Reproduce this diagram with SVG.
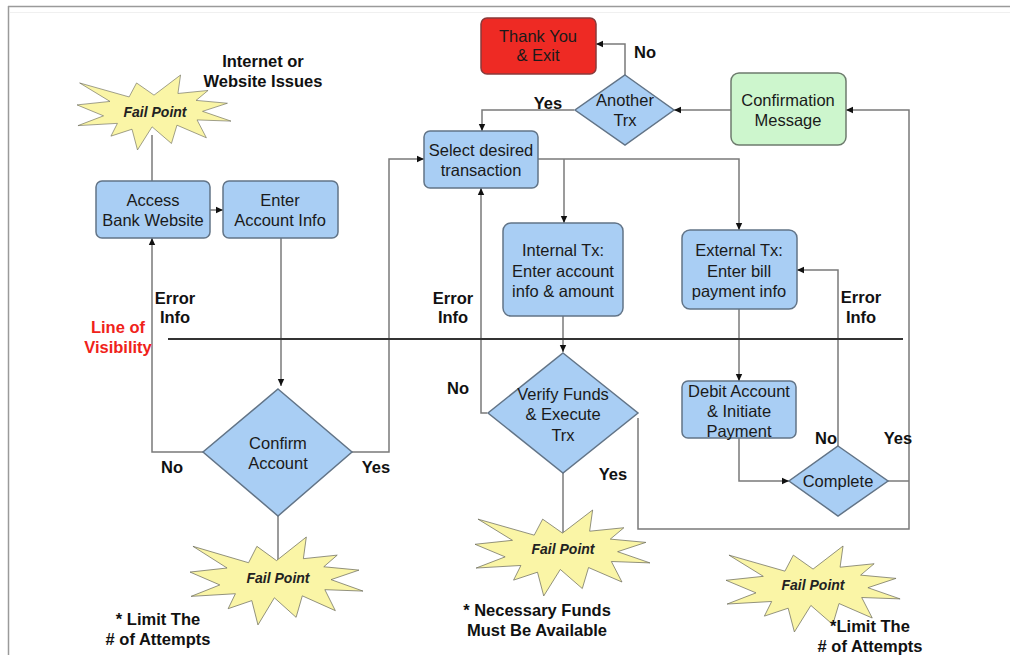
<svg xmlns="http://www.w3.org/2000/svg" width="1010" height="655" viewBox="0 0 1010 655">
<style>
.box{fill:#A9CEF4;stroke:#627487;stroke-width:1.5}
.red{fill:#EE2A24;stroke:#8a3a3a;stroke-width:1.5}
.green{fill:#CDF6CD;stroke:#6d7b6d;stroke-width:1.5}
.star{fill:#FAF5A6;stroke:#6a6a5a;stroke-width:1.2}
.t{font-family:"Liberation Sans",Arial,sans-serif;font-size:16.5px;fill:#1a1a1a;text-anchor:middle}
.b{font-family:"Liberation Sans",Arial,sans-serif;font-size:16.5px;font-weight:bold;fill:#111;text-anchor:middle}
.f{font-family:"Liberation Sans",Arial,sans-serif;font-size:14px;font-weight:bold;font-style:italic;fill:#222;text-anchor:middle}
.vis{fill:#F0221A}
.c{fill:none;stroke:#7a7a7a;stroke-width:1.5}
</style>
<defs>
<marker id="ah" markerWidth="8" markerHeight="8" refX="7" refY="4" orient="auto" markerUnits="userSpaceOnUse">
<path d="M0,0.8 L7,4 L0,7.2 Z" fill="#111"/>
</marker>
<path id="burst" d="M108,58 L145.22,0 L141.55,53.25 L183.8,44.57 L167.02,73.15 L210.97,81.37 L176.07,104.75 L216,132.9 L168.37,129.42 L181.45,180.95 L140.2,144.57 L132.47,197.37 L105.32,149.35 L84.85,216 L77.15,156.27 L47.62,176.17 L56.67,139.37 L1.35,145.87 L37.22,117.75 L0,86.15 L46.27,76.17 L3.7,22.95 L73.12,63.2 L83.52,22.95 Z"/>
</defs>
<rect x="0" y="0" width="1010" height="655" fill="#fff"/>
<g id="frame">
<line x1="8" y1="6.5" x2="1010" y2="6.5" stroke="#9a9a9a" stroke-width="1.5"/>
<line x1="8.5" y1="6" x2="8.5" y2="655" stroke="#9a9a9a" stroke-width="1.5"/>
<line x1="10" y1="12.5" x2="1010" y2="12.5" stroke="#f0f0f0" stroke-width="1"/>
</g>
<g id="connectors">
<path class="c" d="M152,135 V181"/>
<path class="c" d="M210,210 H223" marker-end="url(#ah)"/>
<path class="c" d="M281,238 V386" marker-end="url(#ah)"/>
<path class="c" d="M203,452 H152 V238" marker-end="url(#ah)"/>
<path class="c" d="M352,452 H389 V159 H424" marker-end="url(#ah)"/>
<path class="c" d="M538,159 H739 V230" marker-end="url(#ah)"/>
<path class="c" d="M564,159 V223" marker-end="url(#ah)"/>
<path class="c" d="M625,75 V44 H596" marker-end="url(#ah)"/>
<path class="c" d="M574,110 H482 V131" marker-end="url(#ah)"/>
<path class="c" d="M731,110 H674" marker-end="url(#ah)"/>
<path class="c" d="M888,481 H909"/>
<path class="c" d="M638,418 V529 H909 V110 H846" marker-end="url(#ah)"/>
<path class="c" d="M487,413 H481 V188" marker-end="url(#ah)"/>
<path class="c" d="M563,316 V352" marker-end="url(#ah)"/>
<path class="c" d="M563,473 V535"/>
<path class="c" d="M278,516 V565"/>
<path class="c" d="M739,309 V381" marker-end="url(#ah)"/>
<path class="c" d="M739,438 V481 H789" marker-end="url(#ah)"/>
<path class="c" d="M838,446 V270 H797" marker-end="url(#ah)"/>
</g>
<g id="line-of-visibility">
<line x1="168" y1="339" x2="903" y2="339" stroke="#333" stroke-width="2"/>
<text class="b vis" x="118" y="333">Line of</text>
<text class="b vis" x="118" y="353">Visibility</text>
</g>
<g id="fail-top">
<use href="#burst" class="star" transform="translate(77,75) scale(0.713,0.347)"/>
<text class="f" x="155" y="117">Fail Point</text>
</g>
<g id="note-internet">
<text class="b" x="263" y="67">Internet or</text>
<text class="b" x="263" y="87">Website Issues</text>
</g>
<g id="access">
<rect class="box" x="96" y="181" width="114" height="57" rx="6"/>
<text class="t" x="153" y="206">Access</text>
<text class="t" x="153" y="226">Bank Website</text>
</g>
<g id="enter-account">
<rect class="box" x="223" y="181" width="115" height="57" rx="6"/>
<text class="t" x="280" y="206">Enter</text>
<text class="t" x="280" y="226">Account Info</text>
</g>
<g id="thank-you">
<rect class="red" x="481" y="18" width="115" height="56" rx="6"/>
<text class="t" x="538" y="42">Thank You</text>
<text class="t" x="538" y="61">&amp; Exit</text>
</g>
<g id="another-trx">
<polygon class="box" points="625,75 674,110 625,145 575,110"/>
<text class="t" x="625" y="106">Another</text>
<text class="t" x="625" y="126">Trx</text>
</g>
<g id="select-transaction">
<rect class="box" x="424" y="131" width="114" height="57" rx="6"/>
<text class="t" x="481" y="156">Select desired</text>
<text class="t" x="481" y="176">transaction</text>
</g>
<g id="confirmation">
<rect class="green" x="731" y="73" width="115" height="72" rx="8"/>
<text class="t" x="788" y="106">Confirmation</text>
<text class="t" x="788" y="126">Message</text>
</g>
<g id="internal-tx">
<rect class="box" x="503" y="223" width="120" height="93" rx="8"/>
<text class="t" x="563" y="256">Internal Tx:</text>
<text class="t" x="563" y="277">Enter account</text>
<text class="t" x="563" y="297">info &amp; amount</text>
</g>
<g id="external-tx">
<rect class="box" x="682" y="230" width="115" height="79" rx="8"/>
<text class="t" x="739" y="256">External Tx:</text>
<text class="t" x="739" y="277">Enter bill</text>
<text class="t" x="739" y="297">payment info</text>
</g>
<g id="confirm-account">
<polygon class="box" points="278,389 352,452 278,516 203,452"/>
<text class="t" x="278" y="449">Confirm</text>
<text class="t" x="278" y="469">Account</text>
</g>
<g id="verify-funds">
<polygon class="box" points="563,353 638,413 563,473 488,413"/>
<text class="t" x="563" y="400">Verify Funds</text>
<text class="t" x="563" y="420">&amp; Execute</text>
<text class="t" x="563" y="441">Trx</text>
</g>
<g id="debit-account">
<rect class="box" x="682" y="381" width="114" height="57" rx="6"/>
<text class="t" x="739" y="397">Debit Account</text>
<text class="t" x="739" y="417">&amp; Initiate</text>
<text class="t" x="739" y="437">Payment</text>
</g>
<g id="complete">
<polygon class="box" points="838,446 888,481 838,516 789,481"/>
<text class="t" x="838" y="487">Complete</text>
</g>
<g id="fail-confirm">
<use href="#burst" class="star" transform="translate(190,537) scale(0.801,0.407)"/>
<text class="f" x="278" y="583">Fail Point</text>
</g>
<g id="fail-verify">
<use href="#burst" class="star" transform="translate(475,510) scale(0.81,0.398)"/>
<text class="f" x="563" y="554">Fail Point</text>
</g>
<g id="fail-complete">
<use href="#burst" class="star" transform="translate(726,546) scale(0.806,0.398)"/>
<text class="f" x="813" y="590">Fail Point</text>
</g>
<g id="labels">
<text class="b" x="175" y="304">Error</text>
<text class="b" x="175" y="323">Info</text>
<text class="b" x="453" y="304">Error</text>
<text class="b" x="453" y="323">Info</text>
<text class="b" x="861" y="303">Error</text>
<text class="b" x="861" y="323">Info</text>
<text class="b" x="172" y="473">No</text>
<text class="b" x="376" y="473">Yes</text>
<text class="b" x="548" y="109">Yes</text>
<text class="b" x="645" y="58">No</text>
<text class="b" x="458" y="394">No</text>
<text class="b" x="613" y="480">Yes</text>
<text class="b" x="826" y="444">No</text>
<text class="b" x="898" y="444">Yes</text>
<text class="b" x="158" y="625">* Limit The</text>
<text class="b" x="158" y="645"># of Attempts</text>
<text class="b" x="537" y="616">* Necessary Funds</text>
<text class="b" x="537" y="636">Must Be Available</text>
<text class="b" x="870" y="632">*Limit The</text>
<text class="b" x="870" y="652"># of Attempts</text>
</g>
</svg>
